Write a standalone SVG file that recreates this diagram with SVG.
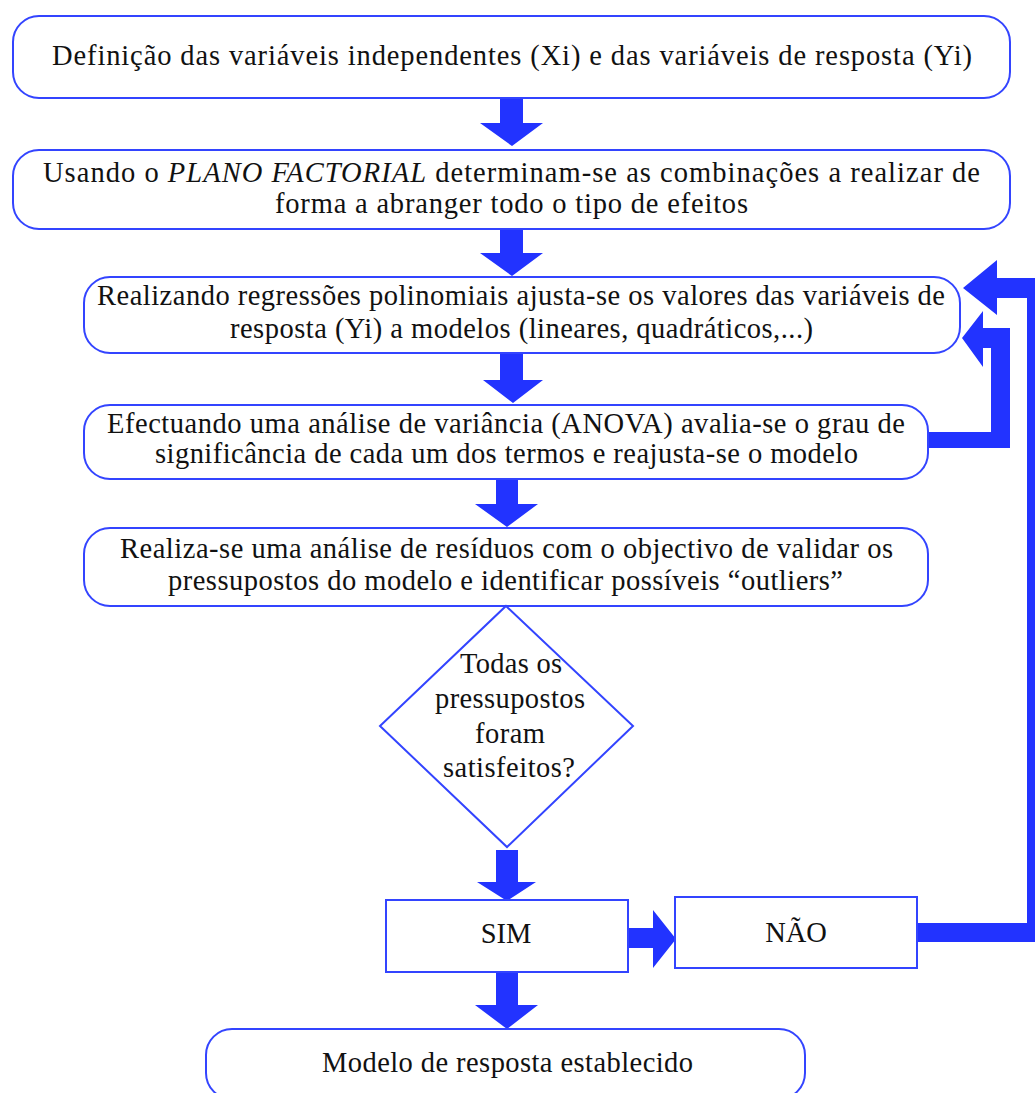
<svg xmlns="http://www.w3.org/2000/svg" width="1035" height="1093" viewBox="0 0 1035 1093">
  <style>
    .box { fill: #ffffff; stroke: #3344ff; stroke-width: 2; }
    .arrow { fill: #2233ff; stroke: none; }
    .t { font-family: "Liberation Serif", "Times New Roman", serif; font-size: 28.5px; fill: #111111; }
    .c { text-anchor: middle; }
  </style>
  <rect width="1035" height="1093" fill="#ffffff"/>

  <!-- connectors: block arrows and feedback loops -->
  <g id="connectors">
    <polygon class="arrow" points="500,98 523,98 523,123 543,123 512,146 480,123 500,123"/>
    <polygon class="arrow" points="500,229 523,229 523,253 543,253 512,276 480,253 500,253"/>
    <polygon class="arrow" points="500,353 523,353 523,380 543,380 513,403 483,380 500,380"/>
    <polygon class="arrow" points="496,479 518,479 518,504 538,504 507,527 475,504 496,504"/>
    <polygon class="arrow" points="496,850 518,850 518,882 536,882 507,901 477,882 496,882"/>
    <polygon class="arrow" points="496,973 518,973 518,1005 538,1005 507,1029 475,1005 496,1005"/>
    <polygon class="arrow" points="628,928 653,928 653,910 676,939 653,968 653,948 628,948"/>
    <!-- ANOVA re-fit loop back to the regression step -->
    <polygon class="arrow" points="928,432 991,432 991,348 983,348 983,367 962,338 983,311 983,328 1010,328 1010,448 928,448"/>
    <!-- NAO loop back to the regression step -->
    <polygon class="arrow" points="917,923 1027,923 1027,298 997,298 997,315 963,288 997,260 997,278 1046,278 1046,942 917,942"/>
  </g>

  <g id="node-definicao">
    <rect class="box" x="13" y="16" width="997" height="82" rx="26"/>
    <text class="t" x="52" y="65" textLength="920" lengthAdjust="spacing">Definição das variáveis independentes (Xi) e das variáveis de resposta (Yi)</text>
  </g>

  <g id="node-plano">
    <rect class="box" x="13" y="150" width="997" height="79" rx="26"/>
    <text class="t" x="43" y="182" textLength="937" lengthAdjust="spacing">Usando o <tspan font-style="italic">PLANO FACTORIAL</tspan> determinam-se as combinações a realizar de</text>
    <text class="t" x="275" y="213" textLength="473" lengthAdjust="spacing">forma a abranger todo o tipo de efeitos</text>
  </g>

  <g id="node-regressao">
    <rect class="box" x="84" y="277" width="876" height="76" rx="26"/>
    <text class="t" x="97" y="305" textLength="848" lengthAdjust="spacing">Realizando regressões polinomiais ajusta-se os valores das variáveis de</text>
    <text class="t" x="230" y="338" textLength="583" lengthAdjust="spacing">resposta (Yi) a modelos (lineares, quadráticos,...)</text>
  </g>

  <g id="node-anova">
    <rect class="box" x="84" y="405" width="844" height="74" rx="26"/>
    <text class="t" x="107" y="433" textLength="798" lengthAdjust="spacing">Efectuando uma análise de variância (ANOVA) avalia-se o grau de</text>
    <text class="t" x="155" y="463" textLength="703" lengthAdjust="spacing">significância de cada um dos termos e reajusta-se o modelo</text>
  </g>

  <g id="node-residuos">
    <rect class="box" x="84" y="528" width="844" height="78" rx="26"/>
    <text class="t" x="120" y="558" textLength="773" lengthAdjust="spacing">Realiza-se uma análise de resíduos com o objectivo de validar os</text>
    <text class="t" x="168" y="590" textLength="675" lengthAdjust="spacing">pressupostos do modelo e identificar possíveis “outliers”</text>
  </g>

  <g id="node-decisao">
    <polygon class="box" points="506,606 633,726 507,847 380,726"/>
    <text class="t c" x="511" y="673" textLength="102" lengthAdjust="spacing">Todas os</text>
    <text class="t c" x="510" y="708" textLength="150" lengthAdjust="spacing">pressupostos</text>
    <text class="t c" x="510" y="743" textLength="70" lengthAdjust="spacing">foram</text>
    <text class="t c" x="509" y="777" textLength="132" lengthAdjust="spacing">satisfeitos?</text>
  </g>

  <g id="node-sim">
    <rect class="box" x="386" y="900" width="242" height="72"/>
    <text class="t c" x="506" y="943">SIM</text>
  </g>

  <g id="node-nao">
    <rect class="box" x="675" y="897" width="242" height="71"/>
    <text class="t c" x="796" y="942">NÃO</text>
  </g>

  <g id="node-modelo">
    <rect class="box" x="206" y="1029" width="599" height="70" rx="26"/>
    <text class="t" x="322" y="1072" textLength="371" lengthAdjust="spacing">Modelo de resposta establecido</text>
  </g>
</svg>
